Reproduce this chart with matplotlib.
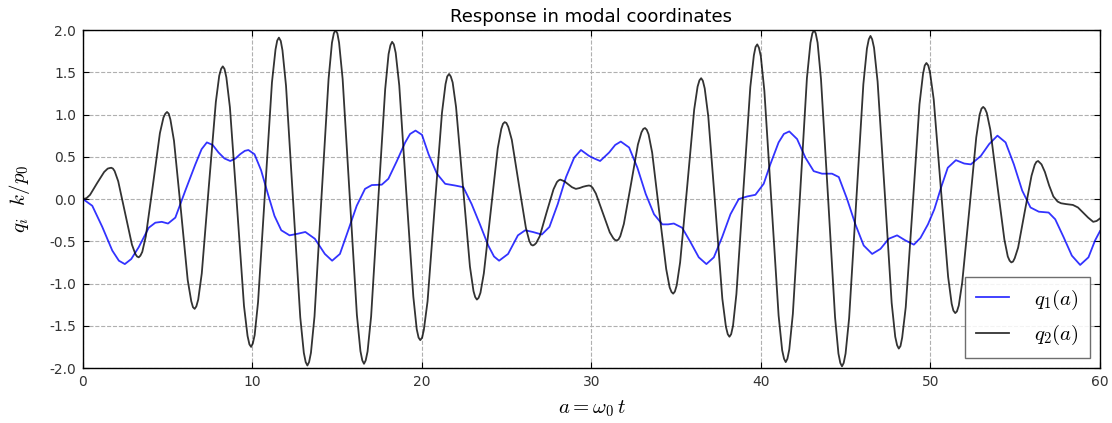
import matplotlib
matplotlib.use("Agg")
import matplotlib.pyplot as plt

# q1 (blue)
a_q1 = [0.0, 0.55, 1.14, 1.73, 2.12, 2.47, 2.85, 3.29, 3.88, 4.27, 4.65, 5.02, 5.45,
        6.04, 6.63, 7.0, 7.31, 7.65, 8.0, 8.35, 8.69, 9.0, 9.27, 9.55, 9.76, 10.12,
        10.51, 10.91, 11.30, 11.70, 12.19, 12.69, 13.12, 13.68, 14.27, 14.70, 15.16,
        15.65, 16.15, 16.64, 17.04, 17.63, 18.02, 18.52, 19.01, 19.30, 19.62, 20.0,
        20.39, 20.88, 21.37, 21.95, 22.44, 22.93, 23.42, 23.91, 24.25, 24.55, 25.08,
        25.66, 26.09, 26.54, 27.07, 27.52, 28.01, 28.50, 28.98, 29.38, 29.86, 30.16,
        30.51, 31.04, 31.40, 31.73, 32.22, 32.71, 33.20, 33.69, 34.18, 34.52, 34.86,
        35.35, 35.84, 36.33, 36.78, 37.22, 37.71, 38.20, 38.69, 39.18, 39.67, 40.16,
        40.55, 41.04, 41.35, 41.67, 42.13, 42.62, 43.11, 43.60, 44.19, 44.59, 45.08,
        45.57, 46.06, 46.56, 47.05, 47.54, 48.03, 48.52, 49.02, 49.41, 49.85, 50.23,
        50.63, 51.02, 51.50, 51.99, 52.38, 52.97, 53.46, 53.95, 54.43, 54.92, 55.41,
        55.90, 56.39, 56.97, 57.36, 57.85, 58.34, 58.83, 59.32, 59.71, 60.0]
q1 = [0.0, -0.08, -0.33, -0.61, -0.73, -0.77, -0.71, -0.57, -0.34, -0.28, -0.27, -0.29,
      -0.22, 0.10, 0.41, 0.59, 0.67, 0.64, 0.55, 0.48, 0.45, 0.48, 0.53, 0.57, 0.58,
      0.53, 0.34, 0.06, -0.20, -0.37, -0.43, -0.41, -0.39, -0.47, -0.65, -0.73, -0.65,
      -0.37, -0.08, 0.12, 0.165, 0.17, 0.24, 0.45, 0.67, 0.77, 0.81, 0.76, 0.53, 0.30,
      0.18, 0.16, 0.14, -0.06, -0.30, -0.55, -0.68, -0.73, -0.65, -0.43, -0.37, -0.39,
      -0.42, -0.33, -0.06, 0.26, 0.49, 0.58, 0.51, 0.48, 0.45, 0.55, 0.64, 0.68, 0.61,
      0.37, 0.06, -0.18, -0.30, -0.30, -0.29, -0.34, -0.51, -0.69, -0.77, -0.69, -0.45,
      -0.18, 0.0, 0.03, 0.05, 0.18, 0.41, 0.67, 0.77, 0.80, 0.71, 0.49, 0.33, 0.30, 0.30,
      0.26, 0.0, -0.30, -0.55, -0.65, -0.59, -0.47, -0.43, -0.49, -0.54, -0.46, -0.30,
      -0.12, 0.14, 0.37, 0.46, 0.42, 0.41, 0.51, 0.65, 0.75, 0.67, 0.41, 0.10, -0.10,
      -0.15, -0.16, -0.24, -0.45, -0.67, -0.78, -0.69, -0.49, -0.38]

# q2 (black)
a_q2 = [0.0, 0.10, 0.21, 0.42, 0.84, 1.25, 1.46, 1.57,
        1.67, 1.77, 1.87, 2.08, 2.48, 2.89, 3.09, 3.19,
        3.29, 3.39, 3.50, 3.71, 4.13, 4.54, 4.75, 4.86,
        4.96, 5.06, 5.16, 5.37, 5.78, 6.18, 6.39, 6.49,
        6.59, 6.69, 6.80, 7.01, 7.42, 7.84, 8.04, 8.15,
        8.25, 8.35, 8.46, 8.67, 9.09, 9.50, 9.71, 9.82,
        9.92, 10.02, 10.13, 10.33, 10.74, 11.15, 11.36, 11.46,
        11.56, 11.67, 11.77, 11.98, 12.40, 12.82, 13.03, 13.14,
        13.24, 13.34, 13.45, 13.66, 14.07, 14.49, 14.69, 14.80,
        14.90, 15.01, 15.11, 15.32, 15.74, 16.16, 16.37, 16.48,
        16.58, 16.68, 16.79, 17.00, 17.41, 17.83, 18.03, 18.14,
        18.24, 18.34, 18.45, 18.66, 19.07, 19.49, 19.69, 19.80,
        19.90, 20.01, 20.11, 20.33, 20.75, 21.18, 21.39, 21.49,
        21.60, 21.70, 21.81, 22.01, 22.42, 22.83, 23.04, 23.14,
        23.24, 23.34, 23.45, 23.65, 24.06, 24.47, 24.68, 24.78,
        24.88, 24.98, 25.09, 25.30, 25.71, 26.13, 26.33, 26.44,
        26.54, 26.64, 26.74, 26.95, 27.35, 27.76, 27.96, 28.06,
        28.16, 28.40, 28.62, 28.85, 29.08, 29.30, 29.50, 29.70,
        29.85, 29.95, 30.06, 30.26, 30.67, 31.08, 31.29, 31.39,
        31.49, 31.59, 31.70, 31.91, 32.33, 32.74, 32.95, 33.06,
        33.16, 33.26, 33.37, 33.58, 33.99, 34.41, 34.61, 34.72,
        34.82, 34.92, 35.03, 35.23, 35.65, 36.06, 36.26, 36.37,
        36.47, 36.57, 36.68, 36.89, 37.31, 37.72, 37.93, 38.04,
        38.14, 38.24, 38.35, 38.55, 38.96, 39.37, 39.58, 39.68,
        39.78, 39.88, 39.99, 40.20, 40.62, 41.04, 41.25, 41.36,
        41.46, 41.56, 41.67, 41.88, 42.30, 42.71, 42.92, 43.03,
        43.13, 43.23, 43.34, 43.54, 43.96, 44.37, 44.57, 44.68,
        44.78, 44.88, 44.99, 45.20, 45.62, 46.04, 46.25, 46.36,
        46.46, 46.56, 46.67, 46.88, 47.30, 47.71, 47.92, 48.03,
        48.13, 48.23, 48.33, 48.54, 48.95, 49.35, 49.56, 49.66,
        49.76, 49.87, 49.97, 50.19, 50.61, 51.04, 51.25, 51.35,
        51.46, 51.56, 51.67, 51.87, 52.29, 52.70, 52.90, 53.01,
        53.11, 53.21, 53.32, 53.53, 53.94, 54.36, 54.56, 54.67,
        54.77, 54.87, 54.97, 55.17, 55.56, 55.96, 56.15, 56.25,
        56.35, 56.55, 56.75, 57.0, 57.25, 57.5, 57.7, 58.0, 58.4, 58.7, 59.0,
        59.3, 59.6, 59.8, 60.0]
q2 = [0.0, 0.004, 0.01, 0.05, 0.19, 0.32, 0.36, 0.366,
      0.37, 0.36, 0.33, 0.21, -0.16, -0.54, -0.65, -0.68,
      -0.69, -0.67, -0.625, -0.44, 0.17, 0.78, 0.965, 1.01,
      1.03, 1.01, 0.94, 0.69, -0.135, -0.96, -1.21, -1.28,
      -1.30, -1.27, -1.19, -0.88, 0.135, 1.15, 1.46, 1.54,
      1.57, 1.54, 1.44, 1.085, -0.09, -1.265, -1.62, -1.72,
      -1.75, -1.71, -1.61, -1.22, 0.08, 1.38, 1.77, 1.875,
      1.91, 1.87, 1.76, 1.34, -0.03, -1.40, -1.82, -1.93,
      -1.97, -1.93, -1.82, -1.39, 0.015, 1.42, 1.85, 1.96,
      2.00, 1.96, 1.85, 1.42, 0.025, -1.37, -1.80, -1.91,
      -1.95, -1.91, -1.805, -1.39, -0.045, 1.30, 1.715, 1.82,
      1.86, 1.83, 1.73, 1.345, 0.095, -1.155, -1.54, -1.64,
      -1.67, -1.64, -1.55, -1.21, -0.095, 1.02, 1.36, 1.45,
      1.48, 1.45, 1.38, 1.09, 0.145, -0.80, -1.09, -1.16,
      -1.19, -1.17, -1.11, -0.88, -0.14, 0.60, 0.83, 0.89,
      0.91, 0.90, 0.855, 0.70, 0.18, -0.34, -0.495, -0.54,
      -0.55, -0.54, -0.52, -0.44, -0.16, 0.115, 0.20, 0.22,
      0.23, 0.21, 0.175, 0.14, 0.12, 0.13, 0.145, 0.155,
      0.16, 0.155, 0.135, 0.065, -0.165, -0.395, -0.465, -0.485,
      -0.49, -0.48, -0.44, -0.295, 0.175, 0.645, 0.79, 0.83,
      0.84, 0.82, 0.765, 0.55, -0.14, -0.83, -1.045, -1.10,
      -1.12, -1.095, -1.02, -0.75, 0.155, 1.06, 1.33, 1.405,
      1.43, 1.40, 1.31, 0.98, -0.10, -1.18, -1.51, -1.60,
      -1.63, -1.60, -1.50, -1.125, 0.10, 1.325, 1.70, 1.80,
      1.83, 1.79, 1.69, 1.28, -0.05, -1.38, -1.79, -1.89,
      -1.93, -1.89, -1.78, -1.36, 0.035, 1.43, 1.85, 1.96,
      2.00, 1.96, 1.85, 1.42, 0.01, -1.40, -1.83, -1.94,
      -1.98, -1.94, -1.83, -1.41, -0.025, 1.36, 1.78, 1.89,
      1.93, 1.89, 1.79, 1.39, 0.08, -1.23, -1.63, -1.73,
      -1.77, -1.74, -1.64, -1.28, -0.08, 1.12, 1.48, 1.58,
      1.61, 1.58, 1.50, 1.18, 0.13, -0.92, -1.24, -1.32,
      -1.35, -1.33, -1.26, -0.99, -0.13, 0.73, 1.00, 1.07,
      1.09, 1.07, 1.02, 0.82, 0.17, -0.48, -0.68, -0.73,
      -0.75, -0.74, -0.70, -0.575, -0.15, 0.275, 0.405, 0.44,
      0.45, 0.41, 0.32, 0.16, 0.03, -0.03, -0.05, -0.06, -0.07, -0.10, -0.16,
      -0.22, -0.27, -0.26, -0.23]

labels = [r'$q_1(a)$', r'$q_2(a)$']
x_ticks = [0, 10, 20, 30, 40, 50, 60]
y_ticks = [-2.0, -1.5, -1.0, -0.5, 0.0, 0.5, 1.0, 1.5, 2.0]

plt.rcParams['mathtext.fontset'] = 'cm'
plt.rcParams['font.family'] = 'DejaVu Sans'

fig = plt.figure(figsize=(11.12, 4.23), dpi=100)
ax = fig.add_axes([0.0746, 0.130, 0.9146, 0.799])

ax.plot(a_q1, q1, color='b', lw=1.3, alpha=0.8, label=labels[0])
ax.plot(a_q2, q2, color='k', lw=1.3, alpha=0.8, label=labels[1])

ax.set_xlim(0, 60)
ax.set_ylim(-2, 2)
ax.set_xticks(x_ticks)
ax.set_yticks(y_ticks)
ax.set_yticklabels(['%.1f' % v for v in y_ticks])
ax.tick_params(direction='in', top=True, right=True, labelsize=10, length=4,
               colors='k', pad=5)
ax.tick_params(labelcolor='#333333')
for s in ax.spines.values():
    s.set_linewidth(1.0)
ax.grid(True, linestyle='--', color='#b0b0b0', lw=0.8)

ax.set_title('Response in modal coordinates', fontsize=13, pad=6)
ax.set_xlabel(r'$a=\omega_0\, t$', fontsize=15, labelpad=7)
ax.set_ylabel(r'$q_i\ \ k/p_0$', fontsize=15, labelpad=12)

leg = ax.legend(loc='lower right', fontsize=15, fancybox=False, framealpha=0.85,
                edgecolor='#555555', handlelength=1.6, handletextpad=1.2,
                borderpad=0.5, labelspacing=0.55, borderaxespad=0.5)
leg.get_frame().set_linewidth(1.0)

fig.savefig('out.png', dpi=100)
